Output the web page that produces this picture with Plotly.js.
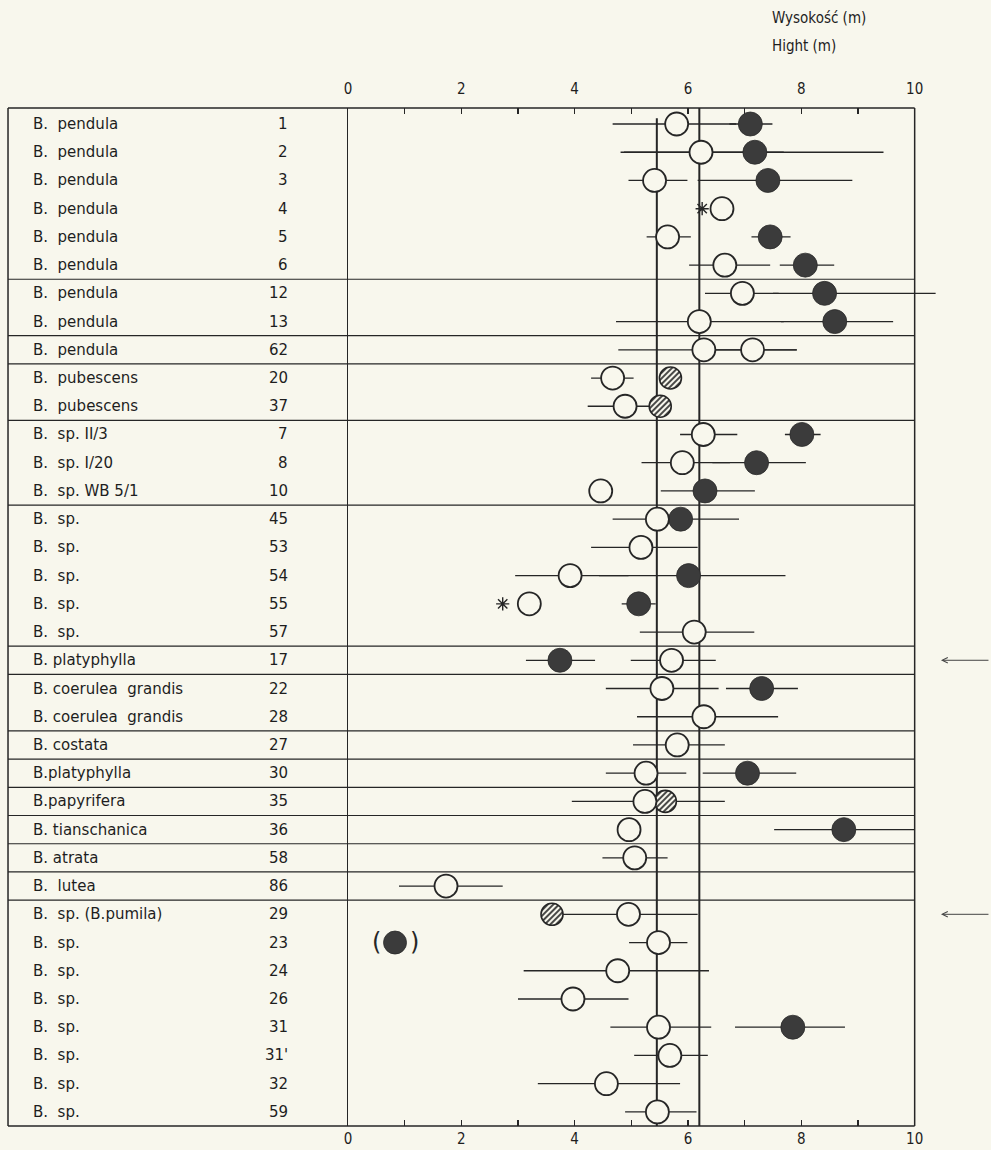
<!DOCTYPE html>
<html>
<head>
<meta charset="utf-8">
<script src="https://cdn.plot.ly/plotly-3.0.1.min.js"></script>
<style>
html,body{margin:0;padding:0;background:#f8f7ed;}
#chart{width:991px;height:1150px;}
</style>
</head>
<body>
<div id="chart"></div>
<script>
// ---------- DATA ----------
const speciesNames = [
  "B.  pendula","B.  pendula","B.  pendula","B.  pendula","B.  pendula","B.  pendula",
  "B.  pendula","B.  pendula",
  "B.  pendula",
  "B.  pubescens","B.  pubescens",
  "B.  sp. II/3","B.  sp. I/20","B.  sp. WB 5/1",
  "B.  sp.","B.  sp.","B.  sp.","B.  sp.","B.  sp.",
  "B. platyphylla",
  "B. coerulea  grandis","B. coerulea  grandis",
  "B. costata",
  "B.platyphylla",
  "B.papyrifera",
  "B. tianschanica",
  "B. atrata",
  "B.  lutea",
  "B.  sp. (B.pumila)","B.  sp.","B.  sp.","B.  sp.","B.  sp.","B.  sp.","B.  sp.","B.  sp."
];
const sampleIds = ["1","2","3","4","5","6","12","13","62","20","37","7","8","10",
  "45","53","54","55","57","17","22","28","27","30","35","36","58","86",
  "29","23","24","26","31","31'","32","59"];

// open circles: mean, lower and upper end of range (m)
const openMean = [5.80,6.23,5.41,6.60,5.64,6.65,6.96,6.20,6.28,4.67,4.89,6.27,5.90,4.46,
  5.46,5.17,3.92,3.20,6.11,5.71,5.54,6.28,5.81,5.26,5.24,4.96,5.06,1.73,
  4.95,5.48,4.76,3.97,5.48,5.68,4.56,5.46];
const openLow  = [4.67,4.81,4.95,null,5.27,6.02,6.30,4.73,4.77,4.29,4.23,5.86,5.18,null,
  4.67,4.29,2.95,null,5.15,4.99,4.55,5.10,5.03,4.55,3.95,null,4.49,0.90,
  3.70,4.96,3.10,3.00,4.63,5.05,3.35,4.89];
const openHigh = [6.85,7.69,5.99,null,6.05,7.45,7.60,7.69,7.92,5.04,5.40,6.87,6.74,null,
  5.90,6.17,4.95,null,7.17,6.49,6.54,7.59,6.65,5.97,5.60,null,5.64,2.73,
  6.17,5.99,6.37,4.95,6.41,6.35,5.86,6.15];

// second open circle (row 62)
const open2Mean = [null,null,null,null,null,null,null,null,7.14,null,null,null,null,null,
  null,null,null,null,null,null,null,null,null,null,null,null,null,null,
  null,null,null,null,null,null,null,null];
const open2Low  = [null,null,null,null,null,null,null,null,6.49,null,null,null,null,null,
  null,null,null,null,null,null,null,null,null,null,null,null,null,null,
  null,null,null,null,null,null,null,null];
const open2High = [null,null,null,null,null,null,null,null,7.92,null,null,null,null,null,
  null,null,null,null,null,null,null,null,null,null,null,null,null,null,
  null,null,null,null,null,null,null,null];

// filled circles
const filledMean = [7.10,7.18,7.41,null,7.45,8.07,8.41,8.59,null,null,null,8.01,7.21,6.30,
  5.87,null,6.01,5.13,null,3.74,7.30,null,null,7.05,null,8.75,null,null,
  null,null,null,null,7.85,null,null,null];
const filledLow  = [6.73,4.87,6.17,null,7.12,7.62,7.50,7.64,null,null,null,7.71,6.43,5.52,
  5.46,null,4.43,4.83,null,3.14,6.67,null,null,6.26,null,7.52,null,null,
  null,null,null,null,6.83,null,null,null];
const filledHigh = [7.49,9.45,8.90,null,7.81,8.58,10.37,9.62,null,null,null,8.34,8.08,7.18,
  6.90,null,7.72,5.43,null,4.36,7.94,null,null,7.91,null,10.0,null,null,
  null,null,null,null,8.77,null,null,null];

// hatched circles
const hatchedMean = [null,null,null,null,null,null,null,null,null,5.69,5.51,null,null,null,
  null,null,null,null,null,null,null,null,null,null,5.60,null,null,null,
  3.60,null,null,null,null,null,null,null];
const hatchedLow  = [null,null,null,null,null,null,null,null,null,null,null,null,null,null,
  null,null,null,null,null,null,null,null,null,null,5.24,null,null,null,
  null,null,null,null,null,null,null,null];
const hatchedHigh = [null,null,null,null,null,null,null,null,null,null,null,null,null,null,
  null,null,null,null,null,null,null,null,null,null,6.65,null,null,null,
  null,null,null,null,null,null,null,null];

// asterisks
const asteriskX = [null,null,null,6.25,null,null,null,null,null,null,null,null,null,null,
  null,null,null,2.73,null,null,null,null,null,null,null,null,null,null,
  null,null,null,null,null,null,null,null];

// bracketed filled circle "(●)" (row B. sp. 23)
const bracketedX = [null,null,null,null,null,null,null,null,null,null,null,null,null,null,
  null,null,null,null,null,null,null,null,null,null,null,null,null,null,
  null,0.83,null,null,null,null,null,null];

const groupBreaksAfter = [5,7,8,10,13,18,19,21,22,23,24,25,26,27];
const referenceLines = [5.45, 6.2];
const arrowRows = [19, 28];
const xTickVals = [0,1,2,3,4,5,6,7,8,9,10];
const xTickText = ["0","","2","","4","","6","","8","","10"];
const headerTexts = ["Wysokość (m)", "Hight (m)"];

// ---------- BUILD ----------
const rows = speciesNames.map((_, i) => i);
const BG = '#f8f7ed';
const INK = '#262626';
const LABEL_FONT = 'DejaVu Sans, Liberation Sans, Arial, sans-serif';
const COND_FONT = 'DejaVu Sans Condensed, Liberation Sans Narrow, DejaVu Sans, sans-serif';
const X_MAX = 10;          // frame edge
const X_VIEW = [0, 10.5];  // a little room for bars running past the frame

function barTrace(mean, lo, hi, name) {
  const x = [], y = [], plus = [], minus = [];
  mean.forEach((m, i) => {
    if (m !== null && lo[i] !== null && hi[i] !== null) {
      x.push(m); y.push(i); plus.push(hi[i] - m); minus.push(m - lo[i]);
    }
  });
  return {
    type: 'scatter', mode: 'markers', name: name + '-range', x, y,
    marker: {size: 1, color: 'rgba(0,0,0,0)'},
    error_x: {type: 'data', symmetric: false, array: plus, arrayminus: minus,
      color: INK, thickness: 1.3, width: 0},
    cliponaxis: false, showlegend: false, hoverinfo: 'skip'
  };
}

const traces = [
  barTrace(openMean, openLow, openHigh, 'open'),
  barTrace(open2Mean, open2Low, open2High, 'open2'),
  barTrace(filledMean, filledLow, filledHigh, 'filled'),
  barTrace(hatchedMean, hatchedLow, hatchedHigh, 'hatched'),
  {type: 'scatter', mode: 'markers', name: 'filled', x: filledMean, y: rows,
    marker: {symbol: 'circle', size: 24, color: '#3b3b3b', line: {color: '#2b2b2b', width: 0.8}},
    cliponaxis: false, showlegend: false},
  {type: 'scatter', mode: 'markers', name: 'bracketed', x: bracketedX, y: rows,
    marker: {symbol: 'circle', size: 23, color: '#3b3b3b', line: {color: '#2b2b2b', width: 0.8}},
    cliponaxis: false, showlegend: false},
  {type: 'scatter', mode: 'markers', name: 'hatched', x: hatchedMean, y: rows,
    marker: {symbol: 'circle', size: 22, color: '#9a9a94', line: {color: INK, width: 1.6}},
    cliponaxis: false, showlegend: false},
  {type: 'scatter', mode: 'markers', name: 'open', x: openMean, y: rows,
    marker: {symbol: 'circle', size: 23, color: BG, line: {color: INK, width: 1.8}},
    cliponaxis: false, showlegend: false},
  {type: 'scatter', mode: 'markers', name: 'open2', x: open2Mean, y: rows,
    marker: {symbol: 'circle', size: 23, color: BG, line: {color: INK, width: 1.8}},
    cliponaxis: false, showlegend: false},
  {type: 'scatter', mode: 'markers', name: 'asterisk', x: asteriskX, y: rows,
    marker: {symbol: 'asterisk-open', size: 11, color: INK, line: {color: INK, width: 1.4}},
    cliponaxis: false, showlegend: false},
  {type: 'scatter', mode: 'markers', x: [0], y: [0], xaxis: 'x2', yaxis: 'y',
    marker: {opacity: 0}, showlegend: false, hoverinfo: 'skip'}
];

// paper coordinates (plot spans px 348 .. 943.35)
const TABLE_LEFT = -0.5714;
const shapes = [];
function hline(yref, yv, width) {
  // left (table) segment in paper coords + plot segment in data coords
  shapes.push({type: 'line', xref: 'paper', yref: yref, x0: TABLE_LEFT, x1: 0, y0: yv, y1: yv, line: {color: INK, width: width}});
  shapes.push({type: 'line', xref: 'x', yref: yref, x0: 0, x1: X_MAX, y0: yv, y1: yv, line: {color: INK, width: width}});
}
// outer table border
shapes.push({type: 'line', xref: 'paper', yref: 'paper', x0: TABLE_LEFT, x1: TABLE_LEFT, y0: 0, y1: 1, line: {color: INK, width: 1.5}});
shapes.push({type: 'line', xref: 'x', yref: 'paper', x0: X_MAX, x1: X_MAX, y0: 0, y1: 1, line: {color: INK, width: 1.5}});
hline('paper', 1, 1.5);
hline('paper', 0, 1.5);
// group separators
groupBreaksAfter.forEach(r => hline('y', r + 0.5, 1.2));
// reference vertical lines
shapes.push({type: 'line', xref: 'x', yref: 'y', x0: referenceLines[0], x1: referenceLines[0], y0: -0.2, y1: 35.5, line: {color: INK, width: 2}, layer: 'below'});
shapes.push({type: 'line', xref: 'x', yref: 'paper', x0: referenceLines[1], x1: referenceLines[1], y0: 0, y1: 1, line: {color: INK, width: 2}, layer: 'below'});

const annotations = [];
rows.forEach(i => {
  annotations.push({xref: 'paper', yref: 'y', x: -0.5328, y: i, xanchor: 'left', yanchor: 'middle',
    text: speciesNames[i].replace(/ /g, '\u00a0'), showarrow: false,
    font: {family: LABEL_FONT, size: 15, color: '#1e1e1e'}});
  annotations.push({xref: 'paper', yref: 'y', x: -0.0975, y: i, xanchor: 'right', yanchor: 'middle',
    text: sampleIds[i], showarrow: false,
    font: {family: LABEL_FONT, size: 15, color: '#1e1e1e'}});
});
// parentheses around bracketed point
bracketedX.forEach((v, i) => {
  if (v === null) return;
  annotations.push({xref: 'x', yref: 'y', x: v, y: i, text: '(', showarrow: false, xshift: -19, yshift: 1,
    font: {family: LABEL_FONT, size: 24, color: INK}});
  annotations.push({xref: 'x', yref: 'y', x: v, y: i, text: ')', showarrow: false, xshift: 19, yshift: 1,
    font: {family: LABEL_FONT, size: 24, color: INK}});
});
// header
annotations.push({xref: 'paper', yref: 'paper', x: 0.7092, y: 1.0884, xanchor: 'left', yanchor: 'middle',
  text: headerTexts[0], showarrow: false, font: {family: COND_FONT, size: 15, color: '#1e1e1e'}});
annotations.push({xref: 'paper', yref: 'paper', x: 0.7092, y: 1.0609, xanchor: 'left', yanchor: 'middle',
  text: headerTexts[1], showarrow: false, font: {family: COND_FONT, size: 15, color: '#1e1e1e'}});
// arrows
arrowRows.forEach(r => {
  annotations.push({xref: 'paper', yref: 'y', x: 0.9966, y: r, text: '', showarrow: true,
    ax: 49, ay: 0, arrowhead: 5, arrowsize: 1.1, arrowwidth: 1, arrowcolor: '#444'});
});

const xCommon = {
  range: X_VIEW, showgrid: false, zeroline: false, showline: false,
  ticks: 'inside', ticklen: 6, tickwidth: 1.3, tickcolor: INK,
  tickmode: 'array', tickvals: xTickVals, ticktext: xTickText,
  tickfont: {family: COND_FONT, size: 15, color: '#1e1e1e'}, fixedrange: true
};

const layout = {
  width: 991, height: 1150,
  margin: {l: 348, r: 48, t: 108, b: 24, pad: 0},
  paper_bgcolor: BG, plot_bgcolor: BG,
  showlegend: false,
  xaxis: Object.assign({}, xCommon, {side: 'bottom', ticklabelstandoff: 2}),
  xaxis2: Object.assign({}, xCommon, {side: 'top', overlaying: 'x', ticklabelstandoff: 10}),
  yaxis: {range: [35.5, -0.567], showgrid: false, zeroline: false, showticklabels: false, ticks: '',
    showline: true, mirror: false, linecolor: INK, linewidth: 1.5, fixedrange: true},
  shapes: shapes,
  annotations: annotations
};

const gd = document.getElementById('chart');
Plotly.newPlot(gd, traces, layout, {staticPlot: true, displayModeBar: false}).then(() => {
  const ns = 'http://www.w3.org/2000/svg';
  const svg = gd.querySelector('svg.main-svg');
  let defs = svg.querySelector('defs');
  if (!defs) { defs = document.createElementNS(ns, 'defs'); svg.insertBefore(defs, svg.firstChild); }
  const pat = document.createElementNS(ns, 'pattern');
  pat.setAttribute('id', 'hatchPattern');
  pat.setAttribute('patternUnits', 'userSpaceOnUse');
  pat.setAttribute('width', '4'); pat.setAttribute('height', '4');
  pat.setAttribute('patternTransform', 'rotate(45)');
  const rect = document.createElementNS(ns, 'rect');
  rect.setAttribute('width', '4'); rect.setAttribute('height', '4'); rect.setAttribute('fill', BG);
  const ln = document.createElementNS(ns, 'line');
  ln.setAttribute('x1', '2'); ln.setAttribute('y1', '0'); ln.setAttribute('x2', '2'); ln.setAttribute('y2', '4');
  ln.setAttribute('stroke', '#2a2a2a'); ln.setAttribute('stroke-width', '1.7');
  pat.appendChild(rect); pat.appendChild(ln); defs.appendChild(pat);
  gd.querySelectorAll('.scatterlayer .trace').forEach(t => {
    const d = t.__data__;
    if (d && d[0] && d[0].trace && d[0].trace.name === 'hatched') {
      t.querySelectorAll('path.point').forEach(p => { p.style.fill = 'url(#hatchPattern)'; p.style.fillOpacity = 1; });
    }
  });
});
</script>
</body>
</html>
